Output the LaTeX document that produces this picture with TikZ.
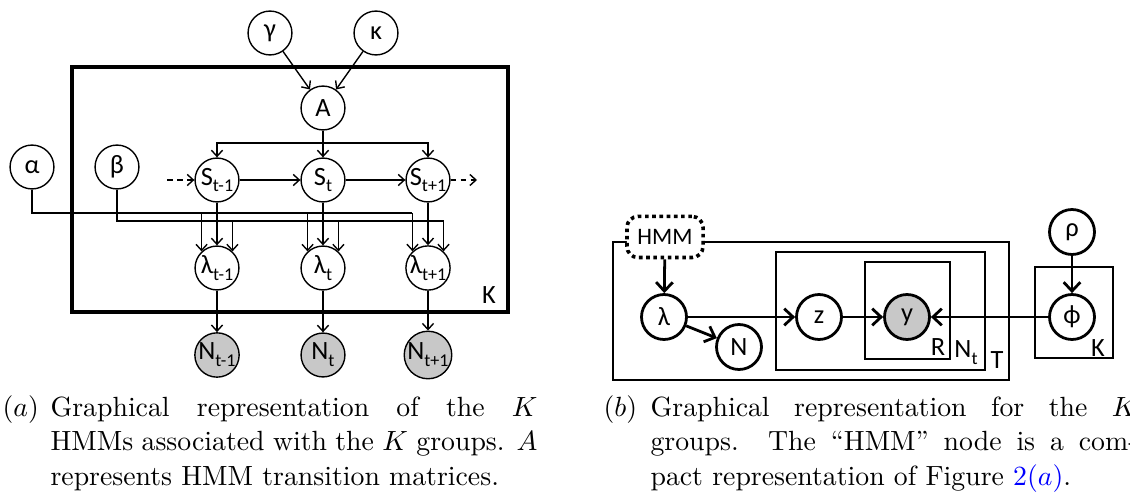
\documentclass[tikz,border=0pt]{standalone}
\usepackage{fontspec}
\newfontfamily\graphfont{Carlito}
\usepackage{tikz}
\usetikzlibrary{arrows.meta, positioning, calc}
\definecolor{ObsColor}{RGB}{200,200,200}
\definecolor{LinkColor}{RGB}{0,0,255}
\newcommand{\lowsub}[1]{\raisebox{-0.55ex}{\fontsize{6.5}{7}\selectfont #1}}
\tikzstyle{var} = [circle, draw, line width=0.5pt, minimum size=15.8pt, inner sep=0pt, fill=white, font=\graphfont\fontsize{9.5}{10}\selectfont]
\tikzstyle{obs} = [var, fill=ObsColor]
\tikzstyle{arrow} = [line width=0.5pt, -{Straight Barb[length=2.2pt, width=4pt]}]
\tikzstyle{dasharrow} = [arrow, dash pattern=on 2pt off 1.6pt]
\tikzstyle{wire} = [line width=0.6pt]
\tikzstyle{plate} = [draw, line width=1.2pt]
\tikzstyle{platelabel} = [inner sep=0pt, font=\graphfont\fontsize{9.5}{10}\selectfont]
\tikzset{
  bvar/.style={var, line width=1pt, minimum size=16.2pt},
  bobs/.style={bvar, fill=ObsColor},
  barrow/.style={line width=1pt, -{Straight Barb[length=3.2pt, width=6pt, line width=1pt]}},
  bplate/.style={draw, line width=0.45pt},
  dotbox/.style={draw, rounded corners=4pt, line width=1.3pt, dash pattern=on 1.3pt off 1.3pt, fill=white, minimum width=27.4pt, minimum height=14.8pt, inner sep=0pt, font=\graphfont\fontsize{8.5}{10}\selectfont},
  captext/.style={anchor=base west, inner sep=0pt}
}

\begin{document}
\begin{tikzpicture}[x=0.36pt, y=-0.36pt]
  \useasboundingbox (0,0) rectangle (1130,497);
  \clip (0,0) rectangle (1130,497);

  % ---------- (a) K HMMs ----------
  % Plate
  \draw[plate] (72,67) rectangle (508,312);
  \node[platelabel] (Ka) at (489,295) {K};

  % Hyperparameters
  \node[var] (gamma) at (270,33) {γ};
  \node[var] (kappa) at (376,33) {κ};
  \node[var] (alpha) at (32,167) {α};
  \node[var] (beta) at (117,167) {β};
  \node[var] (A) at (323,108) {A};

  % States, rates and counts
  \node[var] (Sm) at (217,180) {S\lowsub{t-1}};
  \node[var] (St) at (323,180) {S\lowsub{t}};
  \node[var] (Sp) at (428,180) {S\lowsub{t+1}};
  \node[var] (Lm) at (217,268) {λ\lowsub{t-1}};
  \node[var] (Lt) at (323,268) {λ\lowsub{t}};
  \node[var] (Lp) at (428,268) {λ\lowsub{t+1}};
  \node[obs] (Nm) at (217,355) {N\lowsub{t-1}};
  \node[obs] (Nt) at (323,355) {N\lowsub{t}};
  \node[obs] (Np) at (428,355) {N\lowsub{t+1}};

  % Transition matrix
  \draw[arrow] (gamma) -- (A);
  \draw[arrow] (kappa) -- (A);
  \coordinate (Abr) at (323,143);
  \draw[wire] (A) -- (Abr);
  \draw[arrow] (Abr) -- (St);
  \draw[arrow] (Abr) -| (Sm);
  \draw[arrow] (Abr) -| (Sp);

  % Markov chain
  \coordinate (Sin) at (167,180);
  \coordinate (Sout) at (477,180);
  \draw[dasharrow] (Sin) -- (Sm);
  \draw[arrow] (Sm) -- (St);
  \draw[arrow] (St) -- (Sp);
  \draw[dasharrow] (Sp) -- (Sout);

  % Priors on the rates
  \draw[wire] (alpha) |- (Lp.133 |- 0,213);
  \draw[wire] (beta) |- (Lp.47 |- 0,221);
  \foreach \n in {Lm,Lt,Lp} {
    \draw[arrow] (\n.133 |- 0,213) -- (\n.133);
    \draw[arrow] (\n.47 |- 0,221) -- (\n.47);
  }
  \draw[arrow] (Sm) -- (Lm);
  \draw[arrow] (St) -- (Lt);
  \draw[arrow] (Sp) -- (Lp);
  \draw[arrow] (Lm) -- (Nm);
  \draw[arrow] (Lt) -- (Nt);
  \draw[arrow] (Lp) -- (Np);

  % ---------- (b) K groups ----------
  % Plates
  \draw[bplate] (613,242) rectangle (1009,380);
  \draw[bplate] (776,252) rectangle (985,370);
  \draw[bplate] (865,262) rectangle (950,359);
  \draw[bplate] (1035,267) rectangle (1113,358);
  \node[platelabel] (Rlab) at (938,347) {R};
  \node[platelabel] (Ntlab) at (966,353) {N\lowsub{t}};
  \node[platelabel] (Tlab) at (997,360) {T};
  \node[platelabel] (Kb) at (1098,348) {K};

  % Nodes
  \node[dotbox] (hmm) at (665,237) {HMM};
  \node[bvar] (lam) at (664,317) {λ};
  \node[bvar] (nb) at (739,347) {N};
  \node[bvar] (z) at (819,317) {z};
  \node[bobs] (y) at (907,317) {y};
  \node[bvar] (rho) at (1072,232) {ρ};
  \node[bvar] (phi) at (1072,317) {ϕ};

  % Edges
  \draw[barrow] (hmm) -- (lam);
  \draw[barrow] (lam) -- (nb);
  \draw[barrow] (lam) -- (z);
  \draw[barrow] (z) -- (y);
  \draw[barrow] (phi) -- (y);
  \draw[barrow] (rho) -- (phi);

  % ---------- Captions ----------
  \node[captext] (capa) at (2,417) {$(a)$};
  \node[captext] (capatext) at (50,417) {\parbox[t]{175.3pt}{\fontsize{10}{12.24}\selectfont Graphical representation of the $K$\linebreak HMMs associated with the $K$ groups. $A$\linebreak represents HMM transition matrices.}};
  \node[captext] (capb) at (603,417) {$(b)$};
  \node[captext] (capbtext) at (650,417) {\parbox[t]{175.3pt}{\fontsize{10}{12.24}\selectfont Graphical representation for the $K$\linebreak groups. The ``HMM'' node is a com-\linebreak pact representation of Figure \textcolor{LinkColor}{2$(a)$}.}};
\end{tikzpicture}
\end{document}
